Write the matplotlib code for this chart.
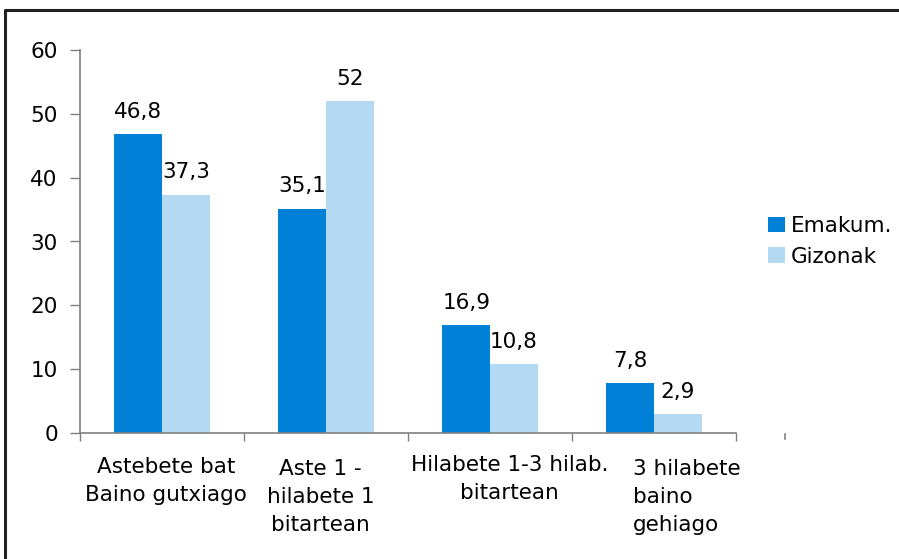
import numpy as np
import matplotlib
matplotlib.use('Agg')
import matplotlib.pyplot as plt
import matplotlib.transforms as mtransforms
from matplotlib.lines import Line2D

categories = ['Astebete bat\nBaino gutxiago', 'Aste 1 -\nhilabete 1\nbitartean',
              'Hilabete 1-3 hilab.\nbitartean', '3 hilabete\nbaino\ngehiago']
emakum = [46.8, 35.1, 16.9, 7.8]
gizonak = [37.3, 52.0, 10.8, 2.9]
yticks = [0, 10, 20, 30, 40, 50, 60]

dark = '#0080D6'
light = '#B3DAF2'
grey = '#808080'
fs = 15.5

plt.rcParams['font.family'] = 'DejaVu Sans'

fig = plt.figure(figsize=(8.99, 5.59), dpi=100)
ax = fig.add_axes([80/899, 126/559, 656/899, 383/559])

# outer frame, only top and left edges show
fig.lines.append(Line2D([5/899, 5/899, 1.0], [0.0, 549/559, 549/559], transform=fig.transFigure,
                        color='#202020', linewidth=2.2))

x = np.arange(len(categories))
w = 0.29
b1 = ax.bar(x - w/2, emakum, w, color=dark, label='Emakum.')
b2 = ax.bar(x + w/2, gizonak, w, color=light, label='Gizonak')

def fmt(v):
    s = ('%.1f' % v).replace('.', ',')
    return s[:-2] if s.endswith(',0') else s

for bars, vals in ((b1, emakum), (b2, gizonak)):
    ax.bar_label(bars, labels=[fmt(v) for v in vals], padding=9, fontsize=fs)

ax.set_xlim(-0.5, len(categories) - 0.5)
ax.set_ylim(0, 60)
ax.set_yticks(yticks)
ax.tick_params(axis='y', direction='out', length=7, width=1, color=grey, pad=9, labelsize=fs)

ax.set_xticks(x)
ax.set_xticklabels(categories, fontsize=fs)
ax.set_xticks(np.arange(-0.5, len(categories)), minor=True)
ax.tick_params(axis='x', which='major', length=0, pad=16)
ax.tick_params(axis='x', which='minor', direction='out', length=6, width=1, color=grey)

# per-label nudges (points)
shifts = [(3, -1), (-4, -3), (14, 0), (-15, -3)]
for lab, (dx, dy) in zip(ax.get_xticklabels(), shifts):
    lab.set_linespacing(1.5)
    lab.set_transform(lab.get_transform() + mtransforms.ScaledTranslation(dx/72, dy/72, fig.dpi_scale_trans))
lab4 = ax.get_xticklabels()[3]
lab4.set_horizontalalignment('left')
lab4.set_multialignment('left')

for side in ('top', 'right'):
    ax.spines[side].set_visible(False)
for side in ('left', 'bottom'):
    ax.spines[side].set_color(grey)
    ax.spines[side].set_linewidth(1.2)

# loose tick past the end of the axis
trans = mtransforms.blended_transform_factory(ax.transData, ax.transAxes)
ax.plot([3.8, 3.8], [-0.003, -0.015], color=grey, lw=1.2, transform=trans, clip_on=False)

ax.legend(loc='center left', bbox_to_anchor=(1.02, 0.5), frameon=False, fontsize=fs,
          handlelength=0.75, handleheight=0.75, handletextpad=0.3, labelspacing=0.5)

fig.savefig('out.png', dpi=100)
